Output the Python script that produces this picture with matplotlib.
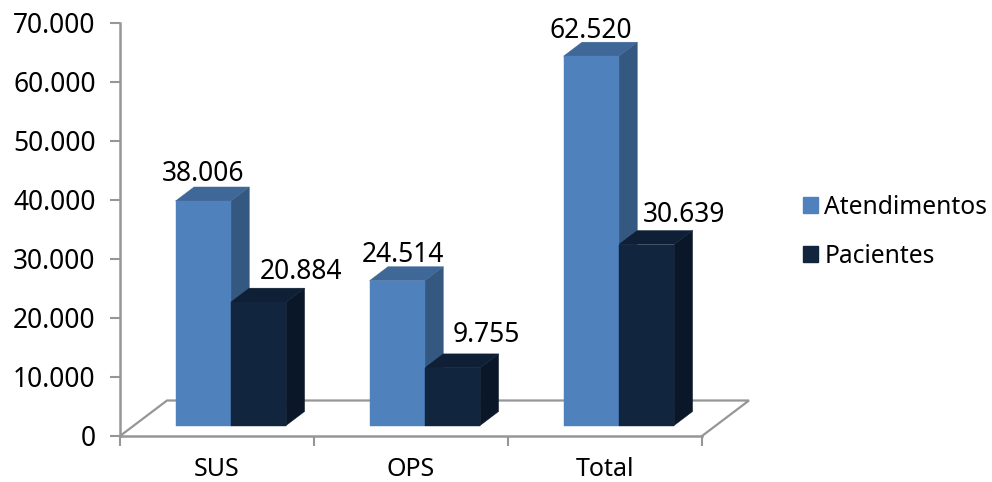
import matplotlib
matplotlib.use('Agg')
import matplotlib.pyplot as plt
from matplotlib.patches import Patch
from matplotlib.ticker import FuncFormatter

categories = ['SUS', 'OPS', 'Total']
atendimentos = [38006, 24514, 62520]
pacientes = [20884, 9755, 30639]
yticks = [0, 10000, 20000, 30000, 40000, 50000, 60000, 70000]

W, H = 992, 482
AX_L, AX_R, AX_B, AX_T = 120, 702, 436, 22.5

plt.rcParams['font.family'] = ['Noto Sans', 'DejaVu Sans']
GRAY = '#969696'


def fmt(v, pos=None):
    return f"{int(v):,}".replace(',', '.')


fig = plt.figure(figsize=(W / 100, H / 100), dpi=100)
ax = fig.add_axes([AX_L / W, 1 - AX_B / H, (AX_R - AX_L) / W, (AX_B - AX_T) / H])
ax.set_xlim(0, 3)
ax.set_ylim(0, 70000)

# pixel sizes of the fake 3d, converted to data units
px_x = 3 / (AX_R - AX_L)
px_y = 70000 / (AX_B - AX_T)
dx, dy = 18.5 * px_x, 14 * px_y
base = 10.5 * px_y
bar_w = 55.3 * px_x
start = 55.5 * px_x


def floor_lines():
    back = 35.5 * px_y
    off = 47 * px_x
    ax.plot([0, off, 3 + off, 3], [0, back, back, 0], color=GRAY, lw=1.6,
            clip_on=False, zorder=1, solid_joinstyle='miter')


def box(x, val, front, top, side):
    y0, y1 = base, base + val
    ax.fill([x + bar_w, x + bar_w + dx, x + bar_w + dx, x + bar_w],
            [y0, y0 + dy, y1 + dy, y1], fc=side, ec=side, lw=0.3, clip_on=False, zorder=2)
    ax.fill([x, x + dx, x + bar_w + dx, x + bar_w],
            [y1, y1 + dy, y1 + dy, y1], fc=top, ec=top, lw=0.3, clip_on=False, zorder=2)
    ax.fill([x, x + bar_w, x + bar_w, x],
            [y0, y0, y1, y1], fc=front, ec=front, lw=0.3, clip_on=False, zorder=3)


floor_lines()

# label offsets from the bar centre (pixels)
lab_a_dx = [0, 6, 0]
lab_a_dy = [27, 25.5, 25]
lab_p_dx = [43, 34, 38]
lab_p_dy = [30, 33, 30]

for i in range(len(categories)):
    xa = i + start
    xp = xa + bar_w
    # drawn left bar first so the dark one covers its side face
    box(xa, atendimentos[i], '#4F81BD', '#3F6797', '#34587F')
    box(xp, pacientes[i], '#11253F', '#0E1F36', '#0A1728')
    ax.text(xa + bar_w / 2 + lab_a_dx[i] * px_x, base + atendimentos[i] + lab_a_dy[i] * px_y,
            fmt(atendimentos[i]), ha='center', va='center', fontsize=19, color='black', zorder=5)
    ax.text(xp + bar_w / 2 + lab_p_dx[i] * px_x, base + pacientes[i] + lab_p_dy[i] * px_y,
            fmt(pacientes[i]), ha='center', va='center', fontsize=19, color='black', zorder=5)

for s in ['top', 'right']:
    ax.spines[s].set_visible(False)
for s in ['left', 'bottom']:
    ax.spines[s].set_color(GRAY)
    ax.spines[s].set_linewidth(1.8)
    ax.spines[s].set_zorder(4)

ax.set_yticks(yticks)
ax.yaxis.set_major_formatter(FuncFormatter(fmt))
ax.set_xticks([0, 1, 2, 3])
ax.set_xticklabels([])
ax.set_xticks([0.5, 1.5, 2.5], minor=True)
ax.set_xticklabels(categories, minor=True)
ax.tick_params(axis='y', length=7, width=1.5, color=GRAY, labelsize=19, pad=10.5)
ax.tick_params(axis='x', which='major', length=7, width=1.5, color=GRAY)
ax.tick_params(axis='x', which='minor', length=0, labelsize=18, pad=15)

handles = [Patch(color='#4F81BD', label='Atendimentos'), Patch(color='#11253F', label='Pacientes')]
fig.legend(handles=handles, loc='upper left', bbox_to_anchor=(803 / W, 1 - 194.5 / H), frameon=False,
           fontsize=17.7, handlelength=0.62, handleheight=0.62, handletextpad=0.25, labelspacing=1.0,
           borderpad=0, borderaxespad=0)

fig.savefig('out.png', dpi=100)
plt.close(fig)
